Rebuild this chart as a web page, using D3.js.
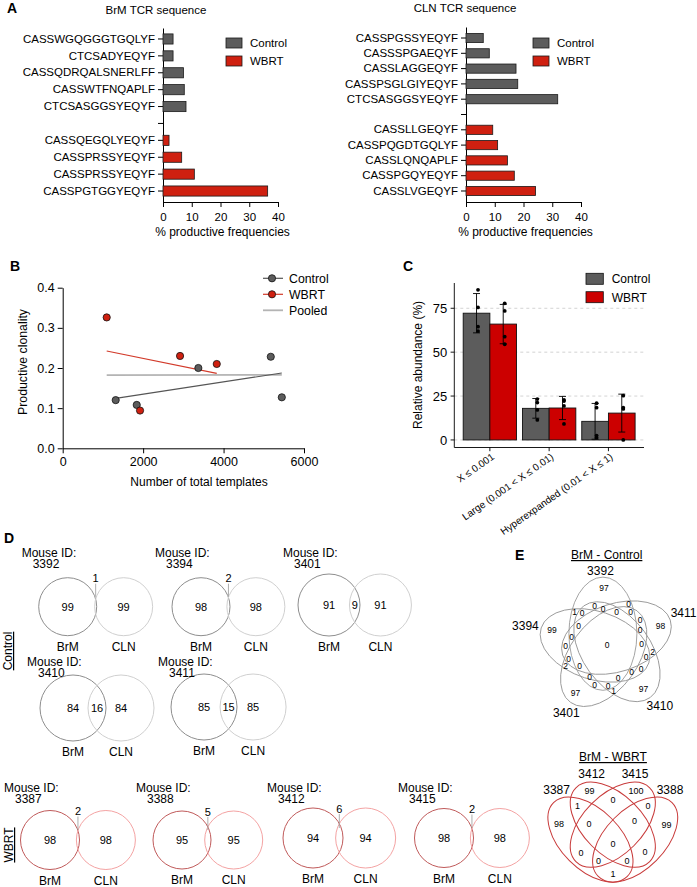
<!DOCTYPE html>
<html><head><meta charset="utf-8">
<script src="https://cdn.jsdelivr.net/npm/d3@7"></script>
<style>
body{margin:0;background:#fff;}
svg{font-family:"Liberation Sans",Arial,Helvetica,sans-serif;}
</style></head><body>
<svg id="fig" width="697" height="887"></svg>
<script>
// ================= DATA =================
// Panel A
const brmControlSeq = ["CASSWGQGGGTGQLYF","CTCSADYEQYF","CASSQDRQALSNERLFF","CASSWTFNQAPLF","CTCSASGGSYEQYF"];
const brmControlFreq = [3.5,3.5,7.1,7.4,8.0];
const brmWbrtSeq = ["CASSQEGQLYEQYF","CASSPRSSYEQYF","CASSPRSSYEQYF","CASSPGTGGYEQYF"];
const brmWbrtFreq = [2.1,6.5,10.9,36.4];
const clnControlSeq = ["CASSPGSSYEQYF","CASSSPGAEQYF","CASSLAGGEQYF","CASSPSGLGIYEQYF","CTCSASGGSYEQYF"];
const clnControlFreq = [6.0,8.1,17.4,18.0,31.9];
const clnWbrtSeq = ["CASSLLGEQYF","CASSPQGDTGQLYF","CASSLQNQAPLF","CASSPGQYEQYF","CASSLVGEQYF"];
const clnWbrtFreq = [9.3,11.0,14.4,16.8,24.2];
const freqTicks = [0,10,20,30,40];
const groupNames = ["Control","WBRT"];

// Panel B
const ctrlTemplates = [1318,1841,3373,5174,5448];
const ctrlClonality = [0.120,0.108,0.200,0.228,0.127];
const wbrtTemplates = [1094,1923,2918,3831];
const wbrtClonality = [0.326,0.094,0.230,0.210];
const templateTicks = [0,2000,4000,6000];
const clonalityTicks = [0,0.1,0.2,0.3,0.4];

// Panel C
const cloneClasses = ["X \u2264 0.001","Large (0.001 < X \u2264 0.01)","Hyperexpanded (0.01 < X \u2264 1)"];
const ctrlAbundMean = [72.2,18.0,10.6];
const ctrlAbundSD = [11.2,5.6,10.2];
const wbrtAbundMean = [66.0,18.2,15.3];
const wbrtAbundSD = [11.2,6.6,10.8];
const ctrlAbundPts = [[85.5,75.5,64.5,62.0],[23.3,21.3,17.1,11.4],[20.9,18.4,2.5,1.3]];
const wbrtAbundPts = [[77.8,73.5,58.8,54.5],[22.8,22.2,19.4,9.1],[25.2,18.4,17.7,0.0]];
const abundTicks = [0,25,50,75];

// Panel D
const ctrlMice = ["3392","3394","3401","3410","3411"];
const ctrlBrMOnly = [99,98,91,84,85];
const ctrlShared = [1,2,9,16,15];
const ctrlCLNOnly = [99,98,91,84,85];
const wbrtMice = ["3387","3388","3412","3415"];
const wbrtBrMOnly = [98,95,94,98];
const wbrtShared = [2,5,6,2];
const wbrtCLNOnly = [98,95,94,98];

// Panel E (values per region, index = bitmask-1 over the set order)
const ctrlVennSets = ["3392","3411","3410","3401","3394"];
const ctrlVennValues = [97,98,0,97,0,2,0,97,0,0,0,1,0,0,0,99,1,0,0,0,0,0,0,2,0,0,0,0,0,0,0];
const wbrtVennSets = ["3387","3412","3415","3388"];
const wbrtVennValues = [98,99,1,100,0,0,0,99,1,0,0,0,0,0,0];

// ================= STYLE =================
const FONT = '"Liberation Sans", Arial, Helvetica, sans-serif';
const GRAY = "#5c5c5c", RED_A = "#cf2010", RED_C = "#cc0000";
const svg = d3.select("#fig");

function txt(g, x, y, s, fs, anchor){
  return g.append("text").attr("x",x).attr("y",y).attr("font-size",fs)
    .attr("text-anchor",anchor||"start").text(s);
}
function fixAxis(g, fs){
  g.attr("font-family", FONT).attr("font-size", fs);
  g.selectAll("text").attr("fill","#000");
  g.selectAll("line,path").attr("stroke","#000");
}
function letter(t,x,y){ txt(svg,x,y,t,14).attr("font-weight","bold"); }

letter("A",7,13); letter("B",10,271); letter("C",403,271); letter("D",4,543); letter("E",515,560);

// ================= PANEL A =================
function tcrPanel(o){
  const keys = o.ctrlSeq.map((s,i)=>"c"+i).concat(["gap"], o.wbrtSeq.map((s,i)=>"w"+i));
  const labelOf = new Map([["gap",""]]);
  o.ctrlSeq.forEach((s,i)=>labelOf.set("c"+i,s));
  o.wbrtSeq.forEach((s,i)=>labelOf.set("w"+i,s));
  const rows = o.ctrlFreq.map((v,i)=>({k:"c"+i,v,c:GRAY}))
    .concat(o.wbrtFreq.map((v,i)=>({k:"w"+i,v,c:RED_A})));
  const y = d3.scaleBand().domain(keys).range([o.y0,o.y1]).paddingInner(0.4).paddingOuter(o.po);
  const x = d3.scaleLinear().domain([0,40]).range([o.x0,o.x1]);
  const g = svg.append("g");
  const ay = g.append("g").attr("transform",`translate(${x(0)},0)`)
    .call(d3.axisLeft(y).tickSize(5).tickSizeOuter(0).tickPadding(3).tickFormat(k=>labelOf.get(k)));
  fixAxis(ay, 11.5);
  const ax = g.append("g").attr("transform",`translate(0,${o.y1})`)
    .call(d3.axisBottom(x).tickValues(freqTicks).tickSize(5).tickSizeOuter(0).tickPadding(6));
  fixAxis(ax, 11.5);
  g.append("g").selectAll("rect").data(rows).join("rect")
    .attr("x",x(0)).attr("y",d=>y(d.k)).attr("width",d=>x(d.v)-x(0)).attr("height",y.bandwidth())
    .attr("fill",d=>d.c).attr("stroke","#1a1a1a").attr("stroke-width",0.8);
  txt(g,(o.x0+o.x1)/2+2,o.y1+33.5,"% productive frequencies",12,"middle");
  txt(g,o.titleX,o.titleY,o.title,11.5,"middle");
  groupNames.forEach((n,i)=>{
    g.append("rect").attr("x",o.legX).attr("y",38+i*18).attr("width",16).attr("height",10)
      .attr("fill",i?RED_A:GRAY).attr("stroke","#1a1a1a").attr("stroke-width",0.8);
    txt(g,o.legX+24,47+i*18,n,11.5);
  });
}
tcrPanel({ctrlSeq:brmControlSeq,ctrlFreq:brmControlFreq,wbrtSeq:brmWbrtSeq,wbrtFreq:brmWbrtFreq,
  x0:163,x1:278,y0:28,y1:202,po:0.35,title:"BrM TCR sequence",titleX:156,titleY:14,legX:226});
tcrPanel({ctrlSeq:clnControlSeq,ctrlFreq:clnControlFreq,wbrtSeq:clnWbrtSeq,wbrtFreq:clnWbrtFreq,
  x0:466,x1:581,y0:27,y1:202,po:0.42,title:"CLN TCR sequence",titleX:465,titleY:12,legX:533});

// ================= PANEL B =================
(function(){
  const g = svg.append("g");
  const x = d3.scaleLinear().domain([0,6000]).range([62.7,304]);
  const y = d3.scaleLinear().domain([0,0.4]).range([448.3,287.7]);
  const ay = g.append("g").attr("transform",`translate(${x(0)},0)`)
    .call(d3.axisLeft(y).tickValues(clonalityTicks).tickFormat(d3.format(".1f")).tickSize(5).tickSizeOuter(0).tickPadding(3));
  fixAxis(ay, 12.5);
  const ax = g.append("g").attr("transform",`translate(0,${y(0)})`)
    .call(d3.axisBottom(x).tickValues(templateTicks).tickFormat(d3.format("d")).tickSize(5).tickSizeOuter(0).tickPadding(4));
  fixAxis(ax, 12.5);
  function fit(xs, ys){
    const mx=d3.mean(xs), my=d3.mean(ys);
    const s=d3.sum(xs,(v,i)=>(v-mx)*(ys[i]-my))/d3.sum(xs,v=>(v-mx)*(v-mx));
    const x0=d3.min(xs), x1=d3.max(xs);
    return [[x0,my+s*(x0-mx)],[x1,my+s*(x1-mx)]];
  }
  const line = d3.line().x(d=>x(d[0])).y(d=>y(d[1]));
  const allX = ctrlTemplates.concat(wbrtTemplates), allY = ctrlClonality.concat(wbrtClonality);
  g.append("path").attr("d",line(fit(allX,allY))).attr("stroke","#b4b4b4").attr("stroke-width",1.8).attr("fill","none");
  g.append("path").attr("d",line(fit(ctrlTemplates,ctrlClonality))).attr("stroke","#555").attr("stroke-width",1.2).attr("fill","none");
  g.append("path").attr("d",line(fit(wbrtTemplates,wbrtClonality))).attr("stroke","#d23a2a").attr("stroke-width",1.1).attr("fill","none");
  const pts = ctrlTemplates.map((v,i)=>({x:v,y:ctrlClonality[i],c:GRAY}))
    .concat(wbrtTemplates.map((v,i)=>({x:v,y:wbrtClonality[i],c:RED_A})));
  g.selectAll("circle.p").data(pts).join("circle").attr("class","p")
    .attr("cx",d=>x(d.x)).attr("cy",d=>y(d.y)).attr("r",3.6)
    .attr("fill",d=>d.c).attr("stroke","#111").attr("stroke-width",0.8);
  const leg = [{n:"Control",c:GRAY,l:"#555",pt:true},{n:"WBRT",c:RED_A,l:"#d23a2a",pt:true},{n:"Pooled",l:"#b4b4b4",pt:false}];
  leg.forEach((d,i)=>{
    const yy = 278.3 + i*16;
    g.append("line").attr("x1",263).attr("x2",283).attr("y1",yy).attr("y2",yy).attr("stroke",d.l).attr("stroke-width",d.pt?1.2:1.8);
    if(d.pt) g.append("circle").attr("cx",272).attr("cy",yy).attr("r",3.6).attr("fill",d.c).attr("stroke","#111").attr("stroke-width",0.8);
    txt(g,289,yy+4.4,d.n,12.3);
  });
  txt(g,0,0,"Productive clonality",12.3,"middle").attr("transform","translate(27,362) rotate(-90)");
  txt(g,199,486,"Number of total templates",12,"middle");
})();

// ================= PANEL C =================
(function(){
  const g = svg.append("g");
  const y = d3.scaleLinear().domain([-4.3,89.4]).range([447.5,283]);
  const x = d3.scaleBand().domain(cloneClasses).range([454.3,644]).paddingInner(0.1).paddingOuter(0.15);
  const xs = d3.scaleBand().domain(groupNames).range([0,x.bandwidth()]);
  const X0 = 454.3, X1 = 644, Y0 = 447.5;
  g.selectAll("line.grid").data(abundTicks).join("line").attr("class","grid")
    .attr("x1",X0).attr("x2",X1).attr("y1",d=>y(d)).attr("y2",d=>y(d))
    .attr("stroke","#c8c8c8").attr("stroke-width",0.8).attr("stroke-dasharray","3,3");
  const bars = [];
  cloneClasses.forEach((c,i)=>{
    bars.push({cls:c,grp:"Control",m:ctrlAbundMean[i],sd:ctrlAbundSD[i],pts:ctrlAbundPts[i],fill:GRAY});
    bars.push({cls:c,grp:"WBRT",m:wbrtAbundMean[i],sd:wbrtAbundSD[i],pts:wbrtAbundPts[i],fill:RED_C});
  });
  const cx = d=>x(d.cls)+xs(d.grp)+xs.bandwidth()/2;
  g.selectAll("rect.bar").data(bars).join("rect").attr("class","bar")
    .attr("x",d=>x(d.cls)+xs(d.grp)).attr("width",xs.bandwidth())
    .attr("y",d=>y(d.m)).attr("height",d=>y(0)-y(d.m))
    .attr("fill",d=>d.fill).attr("stroke","#111").attr("stroke-width",0.9);
  const eb = g.selectAll("g.eb").data(bars).join("g").attr("class","eb");
  eb.append("line").attr("x1",cx).attr("x2",cx).attr("y1",d=>y(d.m-d.sd)).attr("y2",d=>y(d.m+d.sd)).attr("stroke","#000").attr("stroke-width",0.9);
  eb.append("line").attr("x1",d=>cx(d)-3.5).attr("x2",d=>cx(d)+3.5).attr("y1",d=>y(d.m+d.sd)).attr("y2",d=>y(d.m+d.sd)).attr("stroke","#000").attr("stroke-width",0.9);
  eb.append("line").attr("x1",d=>cx(d)-3.5).attr("x2",d=>cx(d)+3.5).attr("y1",d=>y(d.m-d.sd)).attr("y2",d=>y(d.m-d.sd)).attr("stroke","#000").attr("stroke-width",0.9);
  eb.selectAll("circle").data(d=>d.pts.map(v=>({v,x:cx(d)}))).join("circle")
    .attr("cx",p=>p.x+1.5).attr("cy",p=>y(p.v)).attr("r",1.9).attr("fill","#000");
  g.append("line").attr("x1",X0).attr("x2",X0).attr("y1",283).attr("y2",Y0).attr("stroke","#000").attr("stroke-width",0.9);
  g.append("line").attr("x1",X0).attr("x2",X1).attr("y1",Y0).attr("y2",Y0).attr("stroke","#000").attr("stroke-width",0.9);
  abundTicks.forEach(t=>{
    g.append("line").attr("x1",X0-3.7).attr("x2",X0).attr("y1",y(t)).attr("y2",y(t)).attr("stroke","#000").attr("stroke-width",0.9);
    txt(g,X0-7,y(t)+4.6,String(t),13,"end");
  });
  cloneClasses.forEach(c=>{
    const tx = x(c)+x.bandwidth()/2;
    g.append("line").attr("x1",tx).attr("x2",tx).attr("y1",Y0).attr("y2",Y0+3.7).attr("stroke","#000").attr("stroke-width",0.9);
    txt(g,0,0,c,10,"end").attr("dy","0.71em").attr("transform",`translate(${tx+1},${Y0+5}) rotate(-35)`);
  });
  txt(g,0,0,"Relative abundance (%)",12,"middle").attr("transform","translate(422,365) rotate(-90)");
  groupNames.forEach((n,i)=>{
    g.append("rect").attr("x",586).attr("y",273.3+i*18.4).attr("width",17.3).attr("height",11)
      .attr("fill",i?RED_C:GRAY).attr("stroke","#111").attr("stroke-width",0.8);
    txt(g,611.7,283.4+i*18.4,n,12);
  });
})();

// ================= PANEL D =================
(function(){
  const g = svg.append("g");
  const lens = d3.scaleLinear().domain([0,16]).range([1,18]);
  const ctrlLayout = [{x:67.7,y:606.7,r:29,row:0},{x:201,y:606.7,r:29,row:0},{x:329,y:605,r:31,row:0},
                      {x:73,y:708,r:33,row:1},{x:204,y:707,r:33,row:1}];
  const wbrtLayout = [{x:50,y:840,r:29.5,row:2},{x:182,y:840,r:29,row:2},{x:313,y:838,r:30,row:2},{x:444,y:838,r:29.5,row:2}];
  const rowMouseY = [556.5, 665.5, 791.5];
  function drawSet(ids, brm, shared, cln, layout, cBrM, cCLN){
    ids.forEach((id,i)=>{
      const L = layout[i];
      const d = 2*L.r - lens(shared[i]);
      const x2 = L.x + d;
      g.append("circle").attr("cx",L.x).attr("cy",L.y).attr("r",L.r).attr("fill","none").attr("stroke",cBrM).attr("stroke-width",1);
      g.append("circle").attr("cx",x2).attr("cy",L.y).attr("r",L.r).attr("fill","none").attr("stroke",cCLN).attr("stroke-width",1);
      txt(g,L.x,L.y+4,brm[i],11,"middle");
      txt(g,x2,L.y+4,cln[i],11,"middle");
      const mx = (L.x + x2)/2;
      if (lens(shared[i]) < 8) {
        txt(g,mx,L.y-L.r+4.5,shared[i],11,"middle");
        g.append("line").attr("x1",mx).attr("x2",mx).attr("y1",L.y-L.r+6).attr("y2",L.y-10).attr("stroke","#999").attr("stroke-width",0.8);
      } else {
        txt(g,mx,L.y+4,shared[i],11,"middle");
      }
      const ly = Math.min(L.y+L.r+15.3, 884.5);
      txt(g,L.x,ly,"BrM",12,"middle");
      txt(g,x2,ly,"CLN",12,"middle");
      const my = rowMouseY[L.row];
      txt(g,L.x-46,my,"Mouse ID:",12);
      txt(g,L.x-35,my+11.5,id,12);
    });
  }
  drawSet(ctrlMice, ctrlBrMOnly, ctrlShared, ctrlCLNOnly, ctrlLayout, "#8e8e8e", "#d0d0d0");
  drawSet(wbrtMice, wbrtBrMOnly, wbrtShared, wbrtCLNOnly, wbrtLayout, "#c05a5a", "#f4a3a3");
  txt(g,0,0,"Control",12,"middle").attr("text-decoration","underline").attr("transform","translate(12,651) rotate(-90)");
  txt(g,0,0,"WBRT",12,"middle").attr("text-decoration","underline").attr("transform","translate(13,845) rotate(-90)");
})();

// ================= PANEL E =================
function membership(ells, xx, yy){
  let mask=0, depth=Infinity;
  for (let i=0;i<ells.length;i++){
    const e=ells[i];
    const dx=xx-e.cx, dy=yy-e.cy;
    const lx= dx*e.c+dy*e.s, ly=-dx*e.s+dy*e.c;
    const q=(lx*lx)/(e.a*e.a)+(ly*ly)/(e.b*e.b);
    if(q<1) mask|=1<<i;
    const gx=2*lx/(e.a*e.a), gy=2*ly/(e.b*e.b);
    const gm=Math.sqrt(gx*gx+gy*gy)||1e-9;
    depth=Math.min(depth, Math.abs(q-1)/gm);
  }
  return [mask, depth];
}
function prep(ells){ ells.forEach(e=>{const t=e.rot*Math.PI/180; e.c=Math.cos(t); e.s=Math.sin(t);}); return ells; }
function regionLabelPositions(ells, bbox, step){
  const best = {};
  for (let yy=bbox[1]; yy<=bbox[3]; yy+=step) for (let xx=bbox[0]; xx<=bbox[2]; xx+=step){
    const [mask, depth] = membership(ells, xx, yy);
    if(mask && (!best[mask] || depth>best[mask].d)) best[mask]={x:xx,y:yy,d:depth};
  }
  return best;
}
function regionCounts(ells, bbox, step){
  const cnt = {};
  for (let yy=bbox[1]; yy<=bbox[3]; yy+=step) for (let xx=bbox[0]; xx<=bbox[2]; xx+=step){
    const m = membership(ells, xx, yy)[0];
    if (m) cnt[m] = (cnt[m]||0)+1;
  }
  return cnt;
}
function drawEllipses(g, ells, color, w){
  g.selectAll("ellipse").data(ells).join("ellipse")
    .attr("rx",e=>e.a).attr("ry",e=>e.b)
    .attr("transform",e=>`translate(${e.cx},${e.cy}) rotate(${e.rot})`)
    .attr("fill","none").attr("stroke",color).attr("stroke-width",w);
}
(function(){
  const g = svg.append("g");
  const C = [607,645], tipR = 68;
  function build(d, Bm, gam){
    const gr = gam*Math.PI/180;
    const A = Math.sqrt(tipR*tipR - Math.pow(d*Math.sin(gr),2)) - d*Math.cos(gr);
    return prep([0,1,2,3,4].map(i=>{
      const al=(90-72*i)*Math.PI/180, be=al+gr;
      return {cx:C[0]+d*Math.cos(be), cy:C[1]-d*Math.sin(be), a:Bm, b:A, rot:72*i};
    }));
  }
  const bbox = [C[0]-72, C[1]-72, C[0]+72, C[1]+72];
  let bestCfg = null, bestMin = -1;
  for (let gam=10; gam<=70; gam+=5) for (let d=6; d<=26; d+=1.5) for (let Bm=22; Bm<=40; Bm+=1.5){
    const cnt = regionCounts(build(d,Bm,gam), bbox, 2.5);
    const ks = Object.keys(cnt);
    if (ks.length < 31) continue;
    const mn = d3.min(ks, k=>cnt[k]);
    if (mn > bestMin) { bestMin = mn; bestCfg = [d,Bm,gam]; }
  }
  const ells = bestCfg ? build(...bestCfg) : build(10.9,33.5,35.5);
  drawEllipses(g, ells, "#9a9a9a", 0.9);
  const pos = regionLabelPositions(ells, bbox, 0.5);
  ctrlVennValues.forEach((v,i)=>{ const p=pos[i+1]; if(p) txt(g,p.x,p.y+3,v,8.5,"middle"); });
  ctrlVennSets.forEach((s,i)=>{
    const th=(95-72*i)*Math.PI/180, r=74+10*Math.abs(Math.cos(th));
    txt(g,C[0]+r*Math.cos(th),C[1]-r*Math.sin(th)+4.3,s,12,"middle");
  });
  txt(g,606.7,559,"BrM - Control",12,"middle").attr("text-decoration","underline");

  // four-set layout (unit square -> screen)
  const s = 149, ox = 538.3, oy = 909.6;
  const quad = [{x:0.35,y:0.47,rot:45},{x:0.5,y:0.57,rot:45},{x:0.5,y:0.57,rot:-45},{x:0.65,y:0.47,rot:-45}];
  const ells4 = prep(quad.map(q=>({cx:ox+q.x*s, cy:oy-q.y*s, a:0.35*s, b:0.2*s, rot:q.rot})));
  const g2 = svg.append("g");
  drawEllipses(g2, ells4, "#c83a3a", 1);
  const pos4 = regionLabelPositions(ells4,[540,775,690,885],0.5);
  wbrtVennValues.forEach((v,i)=>{ const p=pos4[i+1]; if(p) txt(g2,p.x,p.y+3.2,v,9,"middle"); });
  const catPos = [[0.123,0.803],[0.358,0.915],[0.649,0.915],[0.884,0.803]];
  wbrtVennSets.forEach((n,i)=>txt(g2,ox+catPos[i][0]*s,oy-catPos[i][1]*s+4.3,n,12,"middle"));
  txt(g2,613,761,"BrM - WBRT",12,"middle").attr("text-decoration","underline");
})();
</script>
</body></html>
